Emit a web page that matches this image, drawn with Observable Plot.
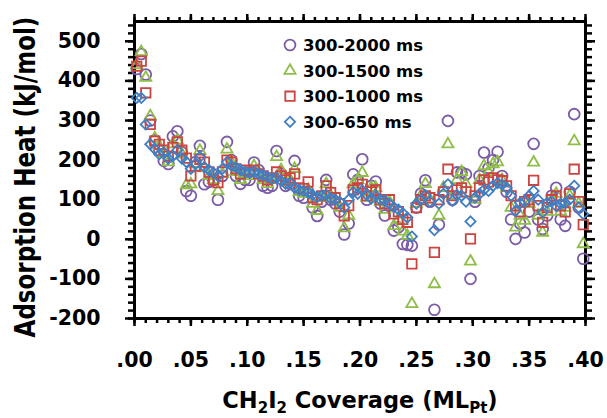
<!DOCTYPE html>
<html><head><meta charset="utf-8">
<script src="https://cdn.jsdelivr.net/npm/d3@7"></script>
<script src="https://cdn.jsdelivr.net/npm/@observablehq/plot@0.6"></script>
<style>
body{margin:0;background:#fff;}
#chart{position:relative;width:607px;height:418px;}
</style></head><body><div id="chart"></div>
<script>
// CH2I2 coverage (ML_Pt)
const coverage = [0.002,0.006,0.010,0.014,0.018,0.022,0.026,0.030,0.034,0.038,
0.042,0.046,0.050,0.054,0.058,0.062,0.066,0.070,0.074,0.078,
0.082,0.086,0.090,0.094,0.098,0.102,0.106,0.110,0.114,0.118,
0.122,0.126,0.130,0.134,0.138,0.142,0.146,0.150,0.154,0.158,
0.162,0.166,0.170,0.174,0.178,0.182,0.186,0.190,0.194,0.198,
0.202,0.206,0.210,0.214,0.218,0.222,0.226,0.230,0.234,0.238,
0.242,0.246,0.250,0.254,0.258,0.262,0.266,0.270,0.274,0.278,
0.282,0.286,0.290,0.294,0.298,0.302,0.306,0.310,0.314,0.318,
0.322,0.326,0.330,0.334,0.338,0.342,0.346,0.350,0.354,0.358,
0.362,0.366,0.370,0.374,0.378,0.382,0.386,0.390,0.394,0.398];

// Adsorption heat (kJ/mol) per integration window
const heat2000 = [430,468,416,300,250,225,198,190,260,273,
220,122,110,195,236,139,145,150,100,160,
246,200,160,140,150,150,194,175,135,130,
135,223,165,135,140,198,110,105,120,80,
59,95,150,100,90,70,12,40,164,150,
202,100,135,146,90,60,85,22,30,-12,
-14,-16,80,115,149,95,-178,37,120,299,
100,169,169,164,-100,95,160,219,180,200,
221,160,120,50,1,40,17,70,241,50,
26,60,110,130,50,34,120,316,80,-49];

const heat1500 = [440,473,408,311,255,235,215,195,240,250,
215,137,139,190,224,180,160,150,122,165,
227,195,170,150,165,160,185,170,150,140,
150,208,175,145,150,178,120,115,125,90,
72,105,140,110,100,80,28,60,140,150,
168,105,130,130,95,75,95,34,50,20,
9,-163,90,110,140,100,-113,60,130,240,
110,150,170,140,-56,100,150,185,170,190,
195,150,130,80,30,60,47,90,194,60,
17,70,100,115,70,80,110,248,90,-12];

const heat1000 = [437,450,370,290,248,240,225,210,232,246,
225,205,160,185,202,195,170,150,143,170,
200,195,178,165,175,170,175,165,160,150,
155,170,160,150,155,165,130,128,145,105,
100,110,135,118,105,90,59,85,125,130,
139,110,120,125,100,90,100,64,70,50,
43,-62,80,100,110,105,-33,100,120,177,
110,125,130,120,1,110,130,150,145,155,
150,148,135,110,85,70,95,100,149,85,
43,80,100,110,85,69,115,177,95,37];

const heat650 = [357,357,290,240,228,215,220,204,210,225,
204,195,178,190,208,182,175,168,160,178,
195,186,182,175,170,168,170,165,162,158,
153,155,148,140,142,130,125,122,118,112,
107,110,112,103,100,95,80,100,119,115,
123,112,103,110,100,98,90,81,75,66,
55,7,90,100,111,95,23,90,115,139,
97,112,110,95,45,105,115,125,122,135,
142,138,130,110,72,92,95,110,122,100,
68,92,95,84,90,92,100,135,80,64];

const seriesNames = ["300-2000 ms","300-1500 ms","300-1000 ms","300-650 ms"];
const xTicks = [0,0.05,0.10,0.15,0.20,0.25,0.30,0.35,0.40];
const xMinor = [0,0.01,0.02,0.03,0.04,0.05,0.06,0.07,0.08,0.09,0.10,0.11,0.12,0.13,0.14,0.15,0.16,0.17,0.18,0.19,0.20,0.21,0.22,0.23,0.24,0.25,0.26,0.27,0.28,0.29,0.30,0.31,0.32,0.33,0.34,0.35,0.36,0.37,0.38,0.39,0.40];
const yTicks = [-200,-100,0,100,200,300,400,500];
const yMinor = [-200,-180,-160,-140,-120,-100,-80,-60,-40,-20,0,20,40,60,80,100,120,140,160,180,200,220,240,260,280,300,320,340,360,380,400,420,440,460,480,500,520,540];

// styles
const styles = [
  {symbol: "circle", color: "#7B5BA8", r: 5.4},
  {symbol: "triangle2", color: "#8FBE48", r: 5.3},
  {symbol: "square2", color: "#CC4440", r: 6},
  {symbol: "diamond2", color: "#3F7FC4", r: 4.6}
];
const allSeries = [heat2000, heat1500, heat1000, heat650];
const tables = allSeries.map((vals, k) => vals.map((v, i) => ({coverage: coverage[i], heat: v, series: seriesNames[k]})));

const fmtX = d => d3.format(".2f")(d).replace(/^0/, "");
const blank = () => "";
const font = {fontFamily: "DejaVu Sans", fontWeight: "bold"};

const plot = Plot.plot({
  width: 607, height: 418,
  marginLeft: 134, marginRight: 22, marginTop: 21, marginBottom: 100,
  style: {fontFamily: "DejaVu Sans", fontWeight: "bold", color: "#000", background: "#fff", overflow: "visible"},
  x: {domain: [0, 0.4]},
  y: {domain: [-200, 550]},
  marks: [
    Plot.frame({stroke: "#000", strokeWidth: 3}),
    Plot.axisX(xMinor, {anchor: "bottom", tickSize: 5, strokeWidth: 2.5, tickFormat: blank, label: null}),
    Plot.axisX(xTicks, {anchor: "bottom", tickSize: 8, strokeWidth: 2.5, tickPadding: 26, tickFormat: fmtX, fontSize: 20.5, ...font, label: null}),
    Plot.axisX(xMinor, {anchor: "top", tickSize: 5, strokeWidth: 2.5, tickFormat: blank, label: null}),
    Plot.axisX(xTicks, {anchor: "top", tickSize: 8, strokeWidth: 2.5, tickFormat: blank, label: null}),
    Plot.axisY(yMinor, {anchor: "left", tickSize: 6, strokeWidth: 2.5, tickFormat: blank, label: null}),
    Plot.axisY(yTicks, {anchor: "left", tickSize: 9, strokeWidth: 2.5, tickPadding: 25, tickFormat: d => String(d), fontSize: 20.5, ...font, label: null}),
    Plot.axisY(yMinor, {anchor: "right", tickSize: 6, strokeWidth: 2.5, tickFormat: blank, label: null}),
    Plot.axisY(yTicks, {anchor: "right", tickSize: 9, strokeWidth: 2.5, tickFormat: blank, label: null}),
    ...tables.map((t, k) => Plot.dot(t, {x: "coverage", y: "heat", symbol: styles[k].symbol, r: styles[k].r, stroke: styles[k].color, fill: "none", strokeWidth: 1.8}))
  ]
});
document.getElementById("chart").appendChild(plot);

const svg = d3.select(plot);
// y-axis title
svg.append("text")
  .attr("transform", "translate(35,177) rotate(-90) scale(1,1.2)")
  .attr("text-anchor", "middle")
  .style("font", "bold 23px 'DejaVu Sans'")
  .attr("fill", "#000")
  .text("Adsorption Heat (kJ/mol)");
// x-axis title with subscripts
const t = svg.append("text").attr("x", 360).attr("y", 408).attr("text-anchor", "middle")
  .style("font", "bold 22.5px 'DejaVu Sans'").style("white-space", "pre").attr("fill", "#000");
t.append("tspan").text("CH");
t.append("tspan").attr("dy", 5).style("font-size", "15px").text("2");
t.append("tspan").attr("dy", -5).text("I");
t.append("tspan").attr("dy", 5).style("font-size", "15px").text("2");
t.append("tspan").attr("dy", -5).text(" Coverage (ML");
t.append("tspan").attr("dy", 5).style("font-size", "15px").text("Pt");
t.append("tspan").attr("dy", -5).text(")");

// legend
const symMap = {circle: d3.symbolCircle, triangle2: d3.symbolTriangle2, square2: d3.symbolSquare2, diamond2: d3.symbolDiamond2};
const lg = svg.append("g").attr("text-anchor", "start");
const rowY = [45, 70.6, 96.2, 121.8];
seriesNames.forEach((name, k) => {
  const s = styles[k];
  lg.append("path")
    .attr("transform", `translate(290,${rowY[k]})`)
    .attr("d", d3.symbol(symMap[s.symbol], Math.PI * s.r * s.r)())
    .attr("fill", "none").attr("stroke", s.color).attr("stroke-width", 1.8);
  lg.append("text").attr("x", 303).attr("y", rowY[k] + 6)
    .attr("text-anchor", "start")
    .style("font", "bold 16.5px 'DejaVu Sans'").attr("fill", "#000").text(name);
});
</script></body></html>
